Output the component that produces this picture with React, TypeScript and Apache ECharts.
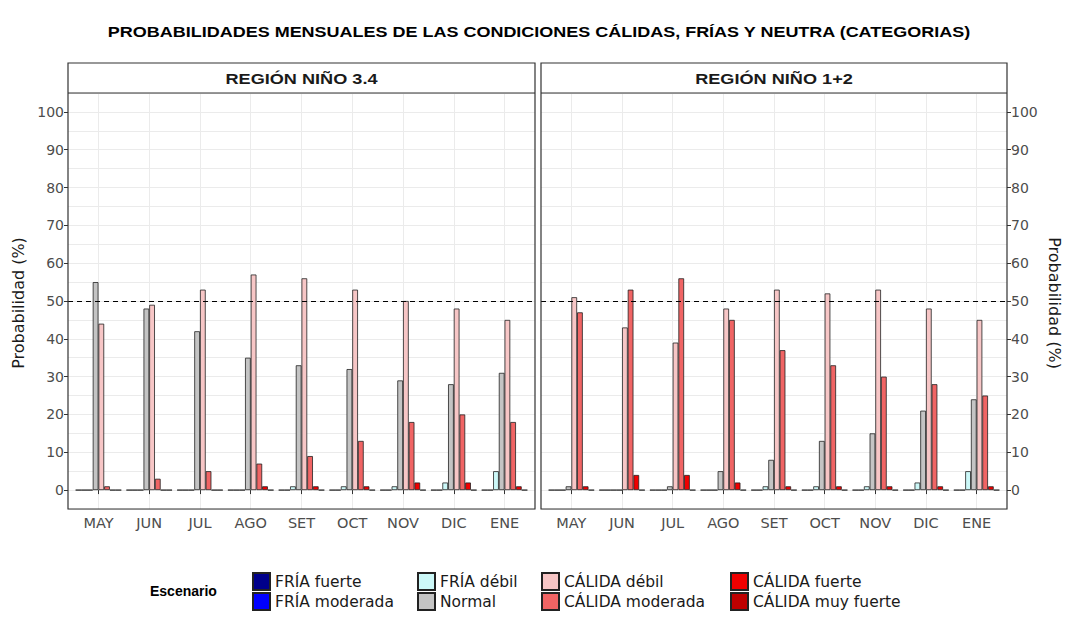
import React, { useEffect, useRef } from "react";
import * as echarts from "echarts";

const months = ["MAY", "JUN", "JUL", "AGO", "SET", "OCT", "NOV", "DIC", "ENE"];
const yTicks = [0, 10, 20, 30, 40, 50, 60, 70, 80, 90, 100];
const scenarios = [
  "FRÍA fuerte",
  "FRÍA moderada",
  "FRÍA débil",
  "Normal",
  "CÁLIDA débil",
  "CÁLIDA moderada",
  "CÁLIDA fuerte",
  "CÁLIDA muy fuerte",
];
const scenarioColors = ["#00008B", "#0000FF", "#CCF8F8", "#C4C4C4", "#F7C6C6", "#F06464", "#F00000", "#BE0000"];
const panelTitles = ["REGIÓN NIÑO 3.4", "REGIÓN NIÑO 1+2"];
const threshold = 50;

// Región Niño 3.4
const n34FriaFuerte = [0, 0, 0, 0, 0, 0, 0, 0, 0];
const n34FriaModerada = [0, 0, 0, 0, 0, 0, 0, 0, 0];
const n34FriaDebil = [0, 0, 0, 0, 1, 1, 1, 2, 5];
const n34Normal = [55, 48, 42, 35, 33, 32, 29, 28, 31];
const n34CalidaDebil = [44, 49, 53, 57, 56, 53, 50, 48, 45];
const n34CalidaModerada = [1, 3, 5, 7, 9, 13, 18, 20, 18];
const n34CalidaFuerte = [0, 0, 0, 1, 1, 1, 2, 2, 1];
const n34CalidaMuyFuerte = [0, 0, 0, 0, 0, 0, 0, 0, 0];

// Región Niño 1+2
const n12FriaFuerte = [0, 0, 0, 0, 0, 0, 0, 0, 0];
const n12FriaModerada = [0, 0, 0, 0, 0, 0, 0, 0, 0];
const n12FriaDebil = [0, 0, 0, 0, 1, 1, 1, 2, 5];
const n12Normal = [1, 0, 1, 5, 8, 13, 15, 21, 24];
const n12CalidaDebil = [51, 43, 39, 48, 53, 52, 53, 48, 45];
const n12CalidaModerada = [47, 53, 56, 45, 37, 33, 30, 28, 25];
const n12CalidaFuerte = [1, 4, 4, 2, 1, 1, 1, 1, 1];
const n12CalidaMuyFuerte = [0, 0, 0, 0, 0, 0, 0, 0, 0];

const panelData = [
  [n34FriaFuerte, n34FriaModerada, n34FriaDebil, n34Normal, n34CalidaDebil, n34CalidaModerada, n34CalidaFuerte, n34CalidaMuyFuerte],
  [n12FriaFuerte, n12FriaModerada, n12FriaDebil, n12Normal, n12CalidaDebil, n12CalidaModerada, n12CalidaFuerte, n12CalidaMuyFuerte],
];

const FONT = "'Liberation Sans', Arial, sans-serif";
const WIDE = "'DejaVu Sans', sans-serif";

export default function App() {
  const ref = useRef<HTMLDivElement>(null);

  useEffect(() => {
    if (!ref.current) return;
    const chart = echarts.init(ref.current, null, { renderer: "svg" });

    const panels = [
      { left: 68, width: 467 },
      { left: 541, width: 466 },
    ];
    const top = 93;
    const bottom = 509;
    const stripTop = 63;
    const height = bottom - top;

    const grid: any[] = [];
    const xAxis: any[] = [];
    const yAxis: any[] = [];
    const series: any[] = [];
    const graphic: any[] = [];

    panels.forEach((p, pi) => {
      const inset = p.width / 92;
      grid.push({ left: p.left, top, width: p.width, height });
      grid.push({ left: p.left + inset, top, width: p.width - 2 * inset, height });
      const bgGrid = pi * 2;
      const dataGrid = pi * 2 + 1;

      xAxis.push({ gridIndex: bgGrid, type: "value", min: 0, max: 1, show: false });
      xAxis.push({
        gridIndex: dataGrid,
        type: "category",
        data: months,
        axisLine: { show: false },
        axisTick: { show: true, alignWithLabel: true, length: 4, lineStyle: { color: "#333333" } },
        axisLabel: { color: "#4D4D4D", fontSize: 14.5, fontFamily: WIDE, margin: 6 },
        splitLine: { show: true, alignWithLabel: true, lineStyle: { color: "#EBEBEB", width: 1 } },
      });

      const side = pi === 0 ? "left" : "right";
      yAxis.push({
        gridIndex: bgGrid,
        type: "value",
        position: side,
        min: -5,
        max: 105,
        interval: 5,
        axisLine: { show: false },
        axisTick: { show: false },
        axisLabel: { show: false },
        splitLine: { show: true, lineStyle: { color: "#EBEBEB", width: 1 } },
      });
      yAxis.push({
        gridIndex: bgGrid,
        type: "value",
        position: side,
        min: -5,
        max: 105,
        axisLine: { show: false },
        axisTick: { show: true, customValues: yTicks, length: 4, lineStyle: { color: "#333333" } },
        axisLabel: { customValues: yTicks, color: "#4D4D4D", fontSize: 14, fontFamily: WIDE, margin: 4 },
        splitLine: { show: false },
      });
      yAxis.push({ gridIndex: dataGrid, type: "value", min: -5, max: 105, show: false, position: side });

      scenarios.forEach((name, si) => {
        series.push({
          type: "bar",
          name,
          xAxisIndex: pi * 2 + 1,
          yAxisIndex: pi * 3 + 2,
          data: panelData[pi][si],
          barGap: "0%",
          barCategoryGap: "10%",
          itemStyle: { color: scenarioColors[si], borderColor: "#222222", borderWidth: 0.8 },
          emphasis: { disabled: true },
        });
      });

      series.push({
        type: "line",
        name: "umbral" + pi,
        xAxisIndex: pi * 2,
        yAxisIndex: pi * 3,
        data: [],
        markLine: {
          silent: true,
          symbol: ["none", "none"],
          label: { show: false },
          lineStyle: { type: [5, 4], color: "#000000", width: 1.1 },
          data: [{ yAxis: threshold }],
        },
      });

      graphic.push({
        type: "rect",
        shape: { x: p.left, y: stripTop, width: p.width, height: bottom - stripTop },
        style: { fill: "none", stroke: "#333333", lineWidth: 1.2 },
        z: 100,
      });
      graphic.push({
        type: "line",
        shape: { x1: p.left, y1: top, x2: p.left + p.width, y2: top },
        style: { stroke: "#333333", lineWidth: 1.2 },
        z: 100,
      });
      graphic.push({
        type: "text",
        x: p.left + p.width / 2,
        y: (stripTop + top) / 2 + 1,
        scaleX: 1.17,
        style: {
          text: panelTitles[pi],
          font: `bold 15.5px ${FONT}`,
          fill: "#1A1A1A",
          align: "center",
          verticalAlign: "middle",
        },
        z: 100,
      });
    });

    graphic.push({
      type: "text",
      x: 539,
      y: 32,
      scaleX: 1.2,
      style: {
        text: "PROBABILIDADES MENSUALES DE LAS CONDICIONES CÁLIDAS, FRÍAS Y NEUTRA (CATEGORIAS)",
        font: `bold 15px ${FONT}`,
        fill: "#000000",
        align: "center",
        verticalAlign: "middle",
      },
    });
    graphic.push({
      type: "text",
      x: 18,
      y: 303,
      rotation: Math.PI / 2,
      style: { text: "Probabilidad (%)", font: `16px ${WIDE}`, fill: "#1A1A1A", align: "center", verticalAlign: "middle" },
    });
    graphic.push({
      type: "text",
      x: 1054,
      y: 303,
      rotation: -Math.PI / 2,
      style: { text: "Probabilidad (%)", font: `16px ${WIDE}`, fill: "#1A1A1A", align: "center", verticalAlign: "middle" },
    });
    graphic.push({
      type: "text",
      x: 150,
      y: 591,
      style: { text: "Escenario", font: `bold 14px ${FONT}`, fill: "#000000", align: "left", verticalAlign: "middle" },
    });

    const colX = [252, 417, 541, 730];
    const rowY = [572, 592];
    const legend = scenarios.map((s, i) => ({
      data: [s],
      left: colX[Math.floor(i / 2)],
      top: rowY[i % 2],
      padding: 0,
      itemWidth: 17,
      itemHeight: 17,
      icon: "rect",
      selectedMode: false,
      textStyle: { fontSize: 15.5, color: "#1A1A1A", fontFamily: WIDE },
    }));

    chart.setOption({
      animation: false,
      backgroundColor: "#FFFFFF",
      textStyle: { fontFamily: FONT },
      grid,
      xAxis,
      yAxis,
      series,
      legend,
      graphic,
    });

    return () => {
      chart.dispose();
    };
  }, []);

  return <div ref={ref} style={{ position: "fixed", left: 0, top: 0, width: 1067, height: 621 }} />;
}
